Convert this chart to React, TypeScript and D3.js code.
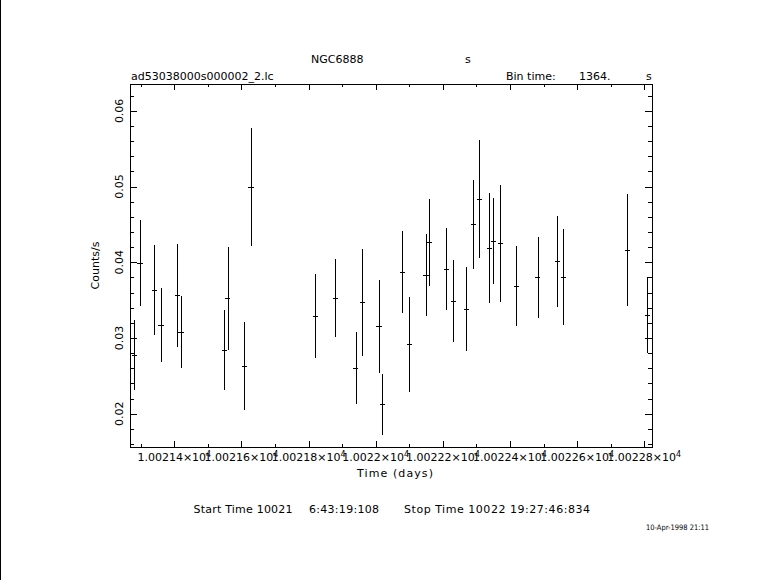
import React from "react";
import * as d3 from "d3";

// ---- data ----
const times: number[] = [
  10021.2808, 10021.2978, 10021.3404, 10021.3604, 10021.4089, 10021.42,
  10021.5489, 10021.5591, 10021.6085, 10021.6285, 10021.82, 10021.8796,
  10021.9404, 10021.96, 10022.0098, 10022.0196, 10022.0792, 10022.1,
  10022.1498, 10022.1596, 10022.2103, 10022.2311, 10022.2698, 10022.2907,
  10022.3086, 10022.3383, 10022.3503, 10022.3711, 10022.4188, 10022.4825,
  10022.5409, 10022.5588, 10022.7494, 10022.809,
];
const rates: number[] = [
  0.02775, 0.0399, 0.03634, 0.03172, 0.03564, 0.0308, 0.02841, 0.03524,
  0.02626, 0.04991, 0.03287, 0.03524, 0.026, 0.03472, 0.03155, 0.02124,
  0.03868, 0.02917, 0.03832, 0.04264, 0.03908, 0.03485, 0.03383, 0.04502,
  0.04836, 0.04185, 0.04281, 0.04251, 0.03687, 0.03802, 0.04013, 0.03802,
  0.04159, 0.033,
];
const errors: number[] = [
  0.0046, 0.0057, 0.00594, 0.00485, 0.00678, 0.0048, 0.00533, 0.00683,
  0.00581, 0.00782, 0.00552, 0.00513, 0.00473, 0.00704, 0.00612, 0.004,
  0.00539, 0.00625, 0.00546, 0.00577, 0.00542, 0.00539, 0.00559, 0.00585,
  0.00777, 0.00727, 0.00572, 0.0077, 0.00533, 0.00533, 0.00598, 0.00632,
  0.00737, 0.00502,
];
const binTimeSec = 1364;
const xMajorTicks: number[] = [10021.4, 10021.6, 10021.8, 10022.0, 10022.2, 10022.4, 10022.6, 10022.8];
const xTickLabels: string[] = ["1.00214", "1.00216", "1.00218", "1.0022", "1.00222", "1.00224", "1.00226", "1.00228"];
const xMinorTicks: number[] = [10021.3, 10021.5, 10021.7, 10021.9, 10022.1, 10022.3, 10022.5, 10022.7];
const yMajorTicks: number[] = [0.02, 0.03, 0.04, 0.05, 0.06];
const yTickLabels: string[] = ["0.02", "0.03", "0.04", "0.05", "0.06"];
const yMinorTicks: number[] = [
  0.016, 0.018, 0.022, 0.024, 0.026, 0.028, 0.032, 0.034, 0.036, 0.038,
  0.042, 0.044, 0.046, 0.048, 0.052, 0.054, 0.056, 0.058, 0.062,
];
const xDomain: [number, number] = [10021.268, 10022.823];
const yDomain: [number, number] = [0.0156, 0.06355];

const W = 781, H = 580;
const L = 130, R = 652, T = 84, B = 447;
const FONT = "DejaVu Sans, sans-serif";

export default function App() {
  const x = d3.scaleLinear().domain(xDomain).range([L, R]);
  const y = d3.scaleLinear().domain(yDomain).range([B, T]);
  const halfBin = binTimeSec / 86400 / 2;
  const sw = 1;
  const line = (k: string, x1: number, y1: number, x2: number, y2: number) => (
    <line key={k} x1={x1} y1={y1} x2={x2} y2={y2} stroke="#000" strokeWidth={sw} />
  );
  const px = (v: number) => Math.round(v) + 0.5;

  return (
    <svg width={W} height={H} style={{ position: "absolute", left: 0, top: 0, background: "#fff" }}
      fontFamily={FONT} shapeRendering="crispEdges">
      <rect x={0} y={0} width={W} height={H} fill="#fff" />
      {line("lb", 0.5, 0, 0.5, H)}

      {/* titles */}
      <text x={311} y={63} fontSize={11}>NGC6888</text>
      <text x={465} y={63} fontSize={11}>s</text>
      <text x={131} y={80} fontSize={11}>ad53038000s000002_2.lc</text>
      <text x={506} y={80} fontSize={11}>Bin time:</text>
      <text x={579} y={80} fontSize={11}>{binTimeSec}.</text>
      <text x={646} y={80} fontSize={11}>s</text>

      {/* frame */}
      <rect x={L + 0.5} y={T + 0.5} width={R - L} height={B - T} fill="none" stroke="#000" strokeWidth={sw} />

      {/* x ticks */}
      {xMajorTicks.map((t, i) => (
        <g key={"xM" + i}>
          {line("b", px(x(t)), B, px(x(t)), B - 6)}
          {line("t", px(x(t)), T, px(x(t)), T + 6)}
        </g>
      ))}
      {xMinorTicks.map((t, i) => (
        <g key={"xm" + i}>
          {line("b", px(x(t)), B, px(x(t)), B - 3)}
          {line("t", px(x(t)), T, px(x(t)), T + 3)}
        </g>
      ))}
      {/* y ticks */}
      {yMajorTicks.map((v, i) => (
        <g key={"yM" + i}>
          {line("l", L, px(y(v)), L + 7, px(y(v)))}
          {line("r", R, px(y(v)), R - 7, px(y(v)))}
        </g>
      ))}
      {yMinorTicks.map((v, i) => (
        <g key={"ym" + i}>
          {line("l", L, px(y(v)), L + 4, px(y(v)))}
          {line("r", R, px(y(v)), R - 4, px(y(v)))}
        </g>
      ))}

      {/* x tick labels */}
      {xMajorTicks.map((t, i) => (
        <text key={"xl" + i} x={x(t)} y={461} fontSize={11} textAnchor="middle">
          {xTickLabels[i]}×10<tspan dy={-4} fontSize={8}>4</tspan>
        </text>
      ))}
      {/* y tick labels */}
      {yMajorTicks.map((v, i) => (
        <text key={"yl" + i} transform={`translate(122.5,${y(v)}) rotate(-90)`} fontSize={11} textAnchor="middle">
          {yTickLabels[i]}
        </text>
      ))}

      {/* axis titles */}
      <text x={357} y={477} fontSize={11} textLength={76} lengthAdjust="spacing">Time (days)</text>
      <text transform={`translate(99,${(T + B) / 2}) rotate(-90)`} fontSize={11} textAnchor="middle">Counts/s</text>

      {/* data */}
      <defs>
        <clipPath id="plotclip">
          <rect x={L} y={T} width={R - L + 1} height={B - T + 1} />
        </clipPath>
      </defs>
      <g clipPath="url(#plotclip)">
        {times.map((t, i) => {
          const cx = px(x(t));
          const cy = px(y(rates[i]));
          return (
            <g key={"d" + i}>
              {line("v", cx, y(rates[i] + errors[i]), cx, y(rates[i] - errors[i]))}
              {line("h", x(t - halfBin), cy, x(t + halfBin), cy)}
            </g>
          );
        })}
      </g>

      {/* footer */}
      <text x={193.5} y={513} fontSize={11} textLength={99} lengthAdjust="spacing">Start Time 10021</text>
      <text x={309} y={513} fontSize={11} textLength={70} lengthAdjust="spacing">6:43:19:108</text>
      <text x={404} y={513} fontSize={11} textLength={186} lengthAdjust="spacing">Stop Time 10022 19:27:46:834</text>
      <text x={646} y={530} fontSize={7.5} textLength={63} lengthAdjust="spacingAndGlyphs">10-Apr-1998 21:11</text>
    </svg>
  );
}
